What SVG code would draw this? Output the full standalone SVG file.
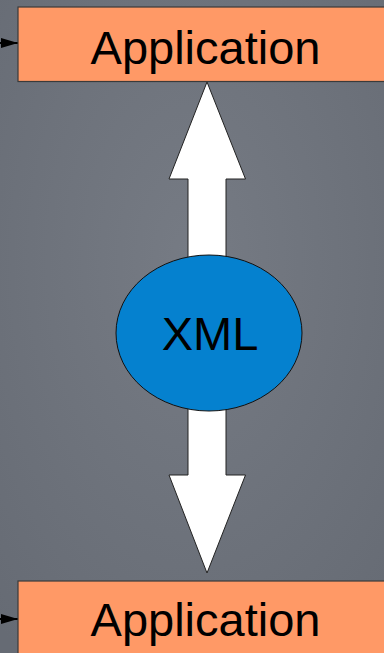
<svg xmlns="http://www.w3.org/2000/svg" width="384" height="653" viewBox="0 0 384 653">
  <defs>
    <radialGradient id="bg" cx="50%" cy="40%" r="75%">
      <stop offset="0" stop-color="#767b84"/>
      <stop offset="1" stop-color="#666b74"/>
    </radialGradient>
    <marker id="head" viewBox="0 0 17 10" refX="17" refY="5" markerWidth="17" markerHeight="10" orient="auto" markerUnits="userSpaceOnUse">
      <path d="M0,0 L17,5 L0,10 Z" fill="#000"/>
    </marker>
    <style>
      .app { fill: #ff9966; stroke: #3a3a3a; stroke-width: 1.2; }
      .lbl { font-family: "Liberation Sans", Arial, sans-serif; font-size: 47px; fill: #000; text-anchor: middle; }
      .arrow { fill: #ffffff; stroke: #222; stroke-width: 1; stroke-linejoin: miter; }
      .feed { stroke: #000; stroke-width: 2; fill: none; }
    </style>
  </defs>
  <rect width="384" height="653" fill="url(#bg)"/>
  <g id="connectors">
    <path class="arrow" d="M207,82 L245.5,179 L226,179 L226,475 L245.5,475 L207,573 L169,475 L188,475 L188,179 L169,179 Z"/>
    <line class="feed" x1="-10" y1="43" x2="18" y2="43" marker-end="url(#head)"/>
    <line class="feed" x1="-10" y1="619" x2="18" y2="619" marker-end="url(#head)"/>
  </g>
  <g id="app-top">
    <rect class="app" x="18" y="7" width="380" height="74.5"/>
    <text class="lbl" x="205.5" y="64">Application</text>
  </g>
  <g id="app-bottom">
    <rect class="app" x="18" y="581" width="380" height="80"/>
    <text class="lbl" x="205.5" y="636">Application</text>
  </g>
  <g id="xml">
    <ellipse cx="209" cy="333" rx="93" ry="78" fill="#0581cf" stroke="#111" stroke-width="1"/>
    <text class="lbl" x="210" y="350">XML</text>
  </g>
</svg>
